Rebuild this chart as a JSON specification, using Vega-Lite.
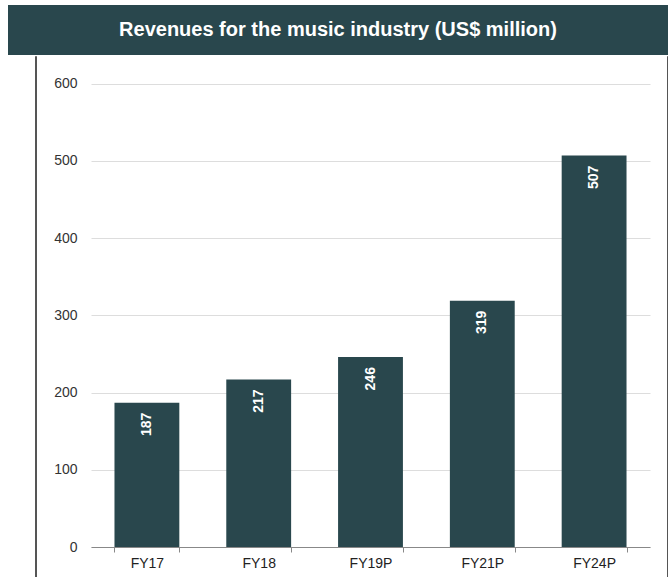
{
  "$schema": "https://vega.github.io/schema/vega-lite/v6.json",
  "padding": {"left": 8, "top": 5, "right": 0, "bottom": 0},
  "background": "white",
  "config": {
    "view": {"stroke": null},
    "font": "Liberation Sans"
  },
  "spacing": 0,
  "vconcat": [
    {
      "width": 660,
      "height": 50,
      "view": {"fill": "#29474d", "stroke": null},
      "data": {"values": [{"title": "Revenues for the music industry (US$ million)"}]},
      "mark": {"type": "text", "color": "white", "fontSize": 20, "fontWeight": "bold", "font": "Liberation Sans"},
      "encoding": {"text": {"field": "title", "type": "nominal"}}
    },
    {
      "spacing": 16,
      "hconcat": [
        {
          "width": 10,
          "height": 522,
          "data": {"values": [{"k": ""}]},
          "mark": {"type": "text", "text": ""}
        },
        {
          "width": 1,
          "height": 522,
          "view": {"stroke": "#555555", "strokeWidth": 1},
          "data": {"values": [{"k": ""}]},
          "mark": {"type": "text", "text": ""}
        },
        {
          "width": 559,
          "height": 491,
          "data": {"values": [
            {"year": "FY17", "revenue": 187},
            {"year": "FY18", "revenue": 217},
            {"year": "FY19P", "revenue": 246},
            {"year": "FY21P", "revenue": 319},
            {"year": "FY24P", "revenue": 507}
          ]},
          "encoding": {
            "x": {
              "field": "year", "type": "nominal", "sort": null,
              "scale": {"paddingInner": 0.42, "paddingOuter": 0.21},
              "axis": {
                "title": null, "labelAngle": 0, "tickBand": "extent", "grid": false,
                "domainColor": "#888888", "tickColor": "#888888", "tickSize": 5,
                "labelFontSize": 14, "labelColor": "#222222", "labelPadding": 4
              }
            },
            "y": {
              "field": "revenue", "type": "quantitative",
              "scale": {"domain": [0, 636], "nice": false},
              "axis": {
                "title": null, "values": [0, 100, 200, 300, 400, 500, 600],
                "domain": false, "ticks": false,
                "labelFontSize": 14, "labelColor": "#333333", "labelPadding": 14,
                "gridColor": "#dddddd"
              }
            }
          },
          "layer": [
            {"mark": {"type": "bar", "color": "#29474d"}},
            {
              "mark": {"type": "text", "angle": 270, "align": "right", "baseline": "middle", "dx": -10,
                       "color": "white", "fontSize": 14, "fontWeight": "bold"},
              "encoding": {"text": {"field": "revenue", "type": "quantitative"}}
            }
          ]
        },
        {
          "width": 1,
          "height": 522,
          "view": {"stroke": "#555555", "strokeWidth": 1},
          "data": {"values": [{"k": ""}]},
          "mark": {"type": "text", "text": ""}
        }
      ]
    }
  ]
}
